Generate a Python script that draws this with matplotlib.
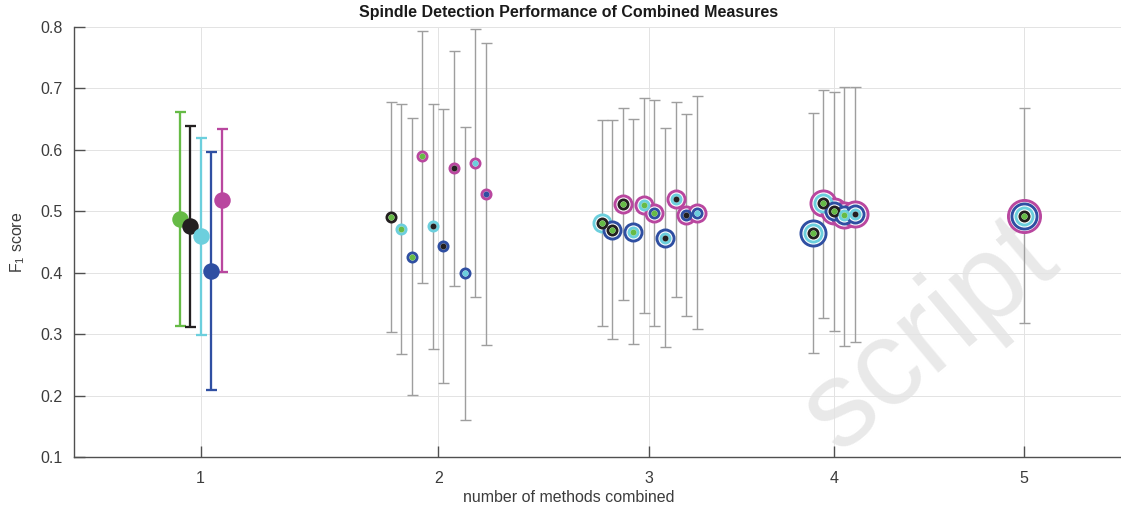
import matplotlib
matplotlib.use('Agg')
import matplotlib.pyplot as plt
from matplotlib import rcParams

rcParams['font.family'] = ['Liberation Sans', 'DejaVu Sans']
rcParams['mathtext.fontset'] = 'custom'
rcParams['mathtext.rm'] = 'Liberation Sans'
rcParams['mathtext.it'] = 'Liberation Sans:italic'

# ---------------- data ----------------
method_names = ['A', 'B', 'C', 'D', 'E']
method_colors = ['#66bb46', '#231f20', '#6ccfdd', '#2f4fa2', '#b9479f']

combos = ['A', 'B', 'C', 'D', 'E',
          'AB', 'AC', 'AD', 'AE', 'BC', 'BD', 'BE', 'CD', 'CE', 'DE',
          'ABC', 'ABD', 'ABE', 'ACD', 'ACE', 'ADE', 'BCD', 'BCE', 'BDE', 'CDE',
          'ABCD', 'ABCE', 'ABDE', 'ACDE', 'BCDE',
          'ABCDE']
f1_mean = [0.487, 0.476, 0.459, 0.403, 0.518,
           0.491, 0.471, 0.426, 0.590, 0.476, 0.443, 0.570, 0.399, 0.578, 0.528,
           0.481, 0.470, 0.512, 0.467, 0.510, 0.498, 0.457, 0.520, 0.494, 0.498,
           0.465, 0.513, 0.501, 0.494, 0.496,
           0.493]
f1_upper = [0.661, 0.639, 0.620, 0.596, 0.634,
            0.678, 0.674, 0.652, 0.794, 0.675, 0.667, 0.761, 0.637, 0.796, 0.774,
            0.649, 0.648, 0.668, 0.650, 0.684, 0.681, 0.636, 0.678, 0.658, 0.687,
            0.660, 0.697, 0.694, 0.703, 0.703,
            0.668]
f1_lower = [0.313, 0.312, 0.299, 0.209, 0.401,
            0.304, 0.268, 0.201, 0.384, 0.276, 0.220, 0.379, 0.161, 0.360, 0.282,
            0.313, 0.292, 0.355, 0.284, 0.335, 0.314, 0.279, 0.361, 0.330, 0.309,
            0.270, 0.327, 0.305, 0.281, 0.288,
            0.318]
n_combined = [1, 2, 3, 4, 5]
tick_labels = ['1', '2', '3', '4', '5']

# ---------------- layout ----------------
W, H = 1121, 509
fig = plt.figure(figsize=(W / 100, H / 100), dpi=100)
ax_l, ax_r, ax_t, ax_b = 74, 1121, 27, 457
ax = fig.add_axes([ax_l / W, 1 - ax_b / H, (ax_r - ax_l) / W, (ax_b - ax_t) / H])
ax.patch.set_alpha(0)

PX = 0.72  # points per pixel at dpi 100
GROUP_GAP = 20

# x positions: slot index within group, groups spaced by GROUP_GAP slots
xpos = []
group_counter = {}
for c in combos:
    n = len(c)
    k = group_counter.get(n, 0)
    group_counter[n] = k + 1
    xpos.append(GROUP_GAP * (n - 1) + k)
group_centers = []
for n in n_combined:
    cnt = group_counter[n]
    group_centers.append(GROUP_GAP * (n - 1) + (cnt - 1) / 2)

ring_outer_px = [6, 12, 20, 28, 35]
ring_lw_px = 2.9

for x, c, m, lo, hi in zip(xpos, combos, f1_mean, f1_lower, f1_upper):
    cols = [method_colors[method_names.index(ch)] for ch in c]
    if len(c) == 1:
        col = cols[0]
        ax.errorbar([x], [m], yerr=[[m - lo], [hi - m]], fmt='none',
                    ecolor=col, elinewidth=2.3 * PX, capsize=5.5 * PX,
                    capthick=2.3 * PX, zorder=3)
        ax.plot([x], [m], 'o', ms=16.5 * PX, mfc=col, mec=col, mew=0, zorder=4)
    else:
        ax.errorbar([x], [m], yerr=[[m - lo], [hi - m]], fmt='none',
                    ecolor='#9e9e9e', elinewidth=1.4 * PX, capsize=5.5 * PX,
                    capthick=1.4 * PX, zorder=2)
        # rings from outermost to innermost
        for j in range(len(c) - 1, 0, -1):
            d = ring_outer_px[j] - ring_lw_px
            ax.plot([x], [m], 'o', ms=d * PX, mfc='white', mec=cols[j],
                    mew=ring_lw_px * PX, zorder=5 + (len(c) - j))
        ax.plot([x], [m], 'o', ms=ring_outer_px[0] * PX, mfc=cols[0],
                mec=cols[0], mew=0, zorder=12)

ax.set_xlim(-10, 89.2)
ax.set_ylim(0.1, 0.8)
ax.set_xticks(group_centers)
ax.set_xticklabels(tick_labels)
ax.set_yticks([0.1, 0.2, 0.3, 0.4, 0.5, 0.6, 0.7, 0.8])
ax.set_yticklabels(['0.1', '0.2', '0.3', '0.4', '0.5', '0.6', '0.7', '0.8'])
ax.grid(True, color='#e3e3e3', linewidth=1.0 * PX, zorder=0)
ax.set_axisbelow(True)
for s in ['top', 'right']:
    ax.spines[s].set_visible(False)
for s in ['left', 'bottom']:
    ax.spines[s].set_color('#505050')
    ax.spines[s].set_linewidth(1.0)
ax.tick_params(direction='in', length=8, width=1.0, color='#505050',
               labelcolor='#3c3c3c', labelsize=11.5)
ax.tick_params(axis='y', pad=8)
ax.tick_params(axis='x', pad=10)

fig.text((569) / W, 1 - 12 / H, 'Spindle Detection Performance of Combined Measures',
         ha='center', va='center', fontsize=11.5, fontweight='bold', color='#1a1a1a')
fig.text(569 / W, 1 - 497 / H, 'number of methods combined', ha='center', va='center',
         fontsize=11.5, color='#3c3c3c')
fig.text(18 / W, 1 - 242 / H, r'F$_\mathrm{1}$ score', ha='center', va='center',
         rotation=90, fontsize=11.5, color='#3c3c3c')

# faint watermark (kept inside the figure)
fig.text(930 / W, 1 - 335 / H, 'script', ha='center', va='center', rotation=40,
         fontsize=88, color='#e9e9e9', zorder=-5)

fig.savefig('out.png', dpi=100)
